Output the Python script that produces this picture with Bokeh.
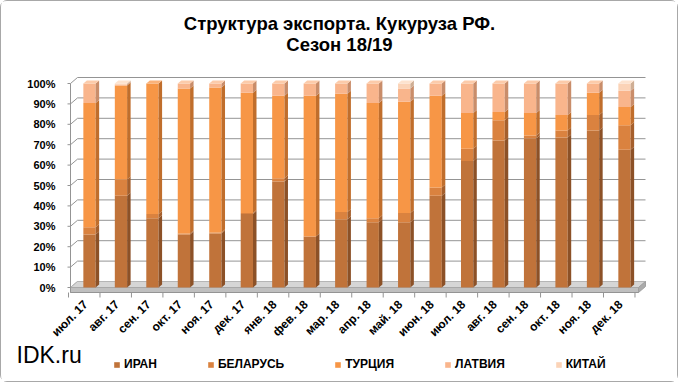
import numpy as np
from bokeh.plotting import figure
from bokeh.models import Range1d, Label, Legend, LegendItem, ColumnDataSource
from bokeh.core.properties import value
from bokeh.embed import file_html
from bokeh.resources import INLINE

# ---------------- data ----------------
months = ["июл. 17", "авг. 17", "сен. 17", "окт. 17", "ноя. 17", "дек. 17", "янв. 18", "фев. 18",
          "мар. 18", "апр. 18", "май. 18", "июн. 18", "июл. 18", "авг. 18", "сен. 18", "окт. 18",
          "ноя. 18", "дек. 18"]
iran     = [26, 45, 34, 26, 26.5, 36, 52, 25, 33.5, 32, 32, 45, 62, 72, 73, 73.5, 77, 67.5]
belarus  = [3.5, 8, 2, 0.5, 0.5, 0.5, 1.5, 0, 3.5, 2, 4.5, 4, 6, 10, 1.5, 3.5, 7.5, 12]
turkey   = [61, 46, 64, 71, 71, 59, 40.5, 69, 58, 56.5, 54.5, 45, 17.5, 4, 11, 7.5, 11, 9]
latvia   = [9.5, 0.5, 0, 2.5, 2, 4.5, 6, 6, 5, 9.5, 6.5, 6, 14.5, 14, 14.5, 15.5, 4.5, 8]
china    = [0, 0.5, 0, 0, 0, 0, 0, 0, 0, 0, 2.5, 0, 0, 0, 0, 0, 0, 3.5]
series_names = ["ИРАН", "БЕЛАРУСЬ", "ТУРЦИЯ", "ЛАТВИЯ", "КИТАЙ"]
y_ticks = [0, 0.1, 0.2, 0.3, 0.4, 0.5, 0.6, 0.7, 0.8, 0.9, 1.0]
y_labels = ["0%", "10%", "20%", "30%", "40%", "50%", "60%", "70%", "80%", "90%", "100%"]
title1 = "Структура экспорта. Кукуруза РФ."
title2 = "Сезон 18/19"
source_text = "IDK.ru"

# ---------------- style / geometry ----------------
FRONT = ["#C0733A", "#DA823F", "#F79646", "#F9B58C", "#FBD3B7"]
SIDE  = ["#8C5127", "#A55F2C", "#C06E2C", "#C98D6A", "#CFAE94"]
TOP   = ["#D9925C", "#E8A064", "#FAB27A", "#FCCBAA", "#FDE3CF"]
GRID = "#949494"
FONT = "Liberation Sans"

W, H = 678, 382           # + 1px CSS border = 680 x 384
STEP = 31.47               # px per category
X_C0 = 88                  # canvas px of first category centre
PXV = 204                  # px per 100 %
Y_C0 = 286                 # canvas px of 0 %


def xd(cx):
    return (cx - X_C0) / STEP


def yd(cy):
    return (Y_C0 - cy) / PXV


X0, X1 = xd(0), xd(W)
Y0, Y1 = yd(H), yd(0)
BAR_W = 12.3 / STEP
DX, DY = 7 / STEP, 6 / PXV          # back wall offset
SDX, SDY = 3.5 / STEP, 3 / PXV      # bar side depth
AX_L = xd(69)                        # left axis line
BACK_R = xd(644)                     # back right edge
FRONT_R = BACK_R - DX
FLOOR_B = yd(291)                    # bottom of floor / x axis line

p = figure(width=W, height=H, x_range=Range1d(X0, X1), y_range=Range1d(Y0, Y1),
           output_backend="svg", toolbar_location=None,
           x_axis_type=None, y_axis_type=None,
           min_border_left=0, min_border_right=0, min_border_top=0, min_border_bottom=0)
p.styles = {"border": "1px solid #a8a8a8", "border-radius": "7px"}
p.outline_line_color = None
p.background_fill_color = "white"
p.border_fill_color = "white"
p.grid.visible = False

# back wall grid lines (from tick values)
n = len(y_ticks)
gy1 = [v + DY for v in y_ticks]
p.segment([AX_L] * n, y_ticks, [AX_L + DX] * n, gy1, line_color=GRID, line_width=1)
p.segment([AX_L + DX] * n, gy1, [BACK_R] * n, gy1, line_color=GRID, line_width=1)

# floor
p.patch([AX_L, FRONT_R, BACK_R, AX_L + DX], [0, 0, DY, DY], fill_color="#d6d6d6", line_color="#b5b5b5")
p.patch([AX_L, FRONT_R, FRONT_R, AX_L], [0, 0, FLOOR_B, FLOOR_B], fill_color="#bfbfbf", line_color="#a8a8a8")
p.patch([FRONT_R, BACK_R, BACK_R, FRONT_R], [0, DY, DY + FLOOR_B, FLOOR_B], fill_color="#ababab", line_color="#a0a0a0")

# y axis (line, ticks, labels)
p.segment([AX_L], [FLOOR_B], [AX_L], [1.0], line_color=GRID, line_width=1)
p.segment([AX_L - 3 / STEP] * n, y_ticks, [AX_L] * n, y_ticks, line_color=GRID, line_width=1)
p.text(x=[xd(54)] * n, y=y_ticks, text=y_labels, text_align="right", text_baseline="middle",
       text_font=value(FONT), text_font_style="bold", text_font_size="11px", text_color="black")

# x axis (line, ticks between categories, rotated labels)
m = len(months)
bx = [k - 0.667 for k in range(m + 1)]
p.segment([AX_L], [FLOOR_B], [FRONT_R], [FLOOR_B], line_color=GRID, line_width=1)
p.segment(bx, [FLOOR_B] * (m + 1), bx, [FLOOR_B - 5 / PXV] * (m + 1), line_color=GRID, line_width=1)
p.text(x=[i - 0.12 for i in range(m)], y=[FLOOR_B - 10 / PXV] * m, text=months, angle=np.pi / 4,
       text_align="right", text_baseline="middle",
       text_font=value(FONT), text_font_style="bold", text_font_size="12px", text_color="black")

# bars
keys = ["s0", "s1", "s2", "s3", "s4"]
vals = [iran, belarus, turkey, latvia, china]
data = {"x": list(range(m))}
for k, v in zip(keys, vals):
    data[k] = [a / 100.0 for a in v]
src = ColumnDataSource(data)
rs = p.vbar_stack(keys, x="x", width=BAR_W, color=FRONT, line_color=None, source=src)

# side faces and top caps, computed from the stacked data
arr = np.array(vals, dtype=float) / 100.0
cum = np.cumsum(arr, axis=0)
sx, sy, sc = [], [], []
tx, ty, tc = [], [], []
for i in range(m):
    xc = i + BAR_W / 2
    for s in range(len(vals)):
        if arr[s, i] <= 0:
            continue
        y1 = cum[s, i]
        y0 = y1 - arr[s, i]
        sx.append([xc, xc + SDX, xc + SDX, xc])
        sy.append([y0, y0 + SDY, y1 + SDY, y1])
        sc.append(SIDE[s])
    top_s = max(s for s in range(len(vals)) if arr[s, i] > 0)
    yt = cum[-1, i]
    xl = i - BAR_W / 2
    tx.append([xl, xl + BAR_W, xl + BAR_W + SDX, xl + SDX])
    ty.append([yt, yt, yt + SDY, yt + SDY])
    tc.append(TOP[top_s])
p.patches(sx, sy, fill_color=sc, line_color=None)
p.patches(tx, ty, fill_color=tc, line_color=None)

# titles and source
p.add_layout(Label(x=xd(338), y=yd(22), text=title1, text_align="center", text_baseline="middle",
                   text_font=FONT, text_font_style="bold", text_font_size="18.5px", text_color="black"))
p.add_layout(Label(x=xd(338), y=yd(43), text=title2, text_align="center", text_baseline="middle",
                   text_font=FONT, text_font_style="bold", text_font_size="18.5px", text_color="black"))
p.add_layout(Label(x=xd(15), y=yd(353), text=source_text, text_align="left", text_baseline="middle",
                   text_font=FONT, text_font_size="23px", text_color="black"))

# legend
legend = Legend(items=[LegendItem(label=nm, renderers=[r]) for nm, r in zip(series_names, rs)],
                orientation="horizontal", location=(112, 12),
                glyph_width=7, glyph_height=7, label_height=14, label_standoff=4,
                spacing=50, padding=0, margin=0,
                border_line_color=None, background_fill_alpha=0,
                label_text_font=FONT, label_text_font_style="bold",
                label_text_font_size="12px", label_text_color="black")
p.add_layout(legend, "center")

open("out.html", "w").write(file_html(p, INLINE))
